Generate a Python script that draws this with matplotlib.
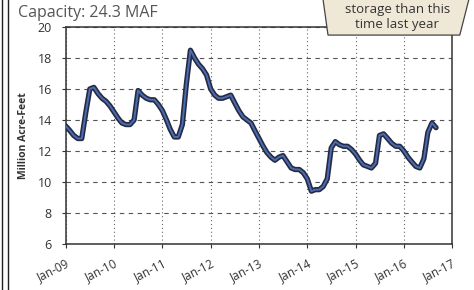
import matplotlib
matplotlib.use("Agg")
import matplotlib.pyplot as plt
import matplotlib.dates as mdates
from matplotlib.patches import Polygon
import pandas as pd

# monthly storage, million acre-feet, Jan 2009 .. Sep 2016
storage = [
    13.6, 13.3, 13.0, 12.8, 12.8, 14.5, 16.0, 16.1, 15.7, 15.4, 15.2, 14.9,   # 2009
    14.5, 14.1, 13.8, 13.7, 13.7, 14.0, 15.9, 15.6, 15.4, 15.3, 15.3, 15.0,   # 2010
    14.6, 14.0, 13.4, 12.9, 12.9, 13.7, 16.3, 18.5, 18.0, 17.6, 17.3, 16.9,   # 2011
    16.0, 15.6, 15.4, 15.4, 15.5, 15.6, 15.1, 14.6, 14.2, 14.0, 13.8, 13.3,   # 2012
    12.8, 12.3, 11.9, 11.6, 11.4, 11.6, 11.7, 11.3, 10.9, 10.8, 10.8, 10.6,   # 2013
    10.2, 9.4, 9.5, 9.5, 9.7, 10.2, 12.2, 12.6, 12.4, 12.3, 12.3, 12.1,       # 2014
    11.8, 11.4, 11.1, 11.0, 10.9, 11.2, 13.0, 13.1, 12.8, 12.5, 12.3, 12.3,   # 2015
    12.0, 11.6, 11.3, 11.0, 10.9, 11.5, 13.2, 13.8, 13.5,                     # 2016
]
months = pd.date_range("2009-01-01", periods=len(storage), freq="MS")
year_ticks = pd.date_range("2009-01-01", "2017-01-01", freq="YS")
y_ticks = [6, 8, 10, 12, 14, 16, 18, 20]

plt.rcParams["font.family"] = ["Open Sans", "DejaVu Sans"]

fig = plt.figure(figsize=(4.74, 2.9), dpi=100)
ax = fig.add_axes([0.139, 0.159, 0.815, 0.748])

ax.plot(months, storage, color="#262a40", lw=3.8, solid_capstyle="round", zorder=3)
ax.plot(months, storage, color="#4a6cb3", lw=1.4, solid_capstyle="round", zorder=4)

ax.set_xlim(year_ticks[0], year_ticks[-1])
ax.set_ylim(6, 20)
ax.set_yticks(y_ticks)
ax.set_xticks(year_ticks)
ax.xaxis.set_major_formatter(mdates.DateFormatter("%b-%y"))

ax.grid(axis="y", color="#555555", lw=0.8, linestyle=(0, (4, 4)))
ax.grid(axis="x", color="#666666", lw=0.8, linestyle=(0, (1, 2.5)))

for s in ax.spines.values():
    s.set_color("#333333")
    s.set_linewidth(1.1)

ax.tick_params(axis="y", labelsize=9, colors="#333333", length=3, pad=7)
ax.tick_params(axis="x", labelsize=8.5, colors="#333333", length=3, pad=6)
for lbl in ax.get_xticklabels():
    lbl.set_rotation(27)
    lbl.set_ha("right")
    lbl.set_rotation_mode("anchor")

ax.set_ylabel("Million Acre-Feet", fontsize=7.5, fontweight="bold",
              color="#333333", labelpad=6)

fig.text(0.038, 0.94, "Capacity: 24.3 MAF", fontsize=11.5, color="#555555")

# callout box, top right
box = Polygon([[0.680, 1.02], [0.692, 0.879], [0.970, 0.879], [0.992, 1.02]],
              closed=True, transform=fig.transFigure, facecolor="#efe8d6",
              edgecolor="#444444", lw=0.9, zorder=10)
fig.patches.append(box)
fig.text(0.838, 0.968, "storage than this", fontsize=9.5, color="#333333",
         ha="center", va="center", zorder=11)
fig.text(0.838, 0.915, "time last year", fontsize=9.5, color="#333333",
         ha="center", va="center", zorder=11)

# page border on the left
for xf in (0.005, 0.017):
    fig.add_artist(plt.Line2D([xf, xf], [0, 1], transform=fig.transFigure,
                              color="#222222", lw=1.0))

fig.savefig("out.png", dpi=100)
